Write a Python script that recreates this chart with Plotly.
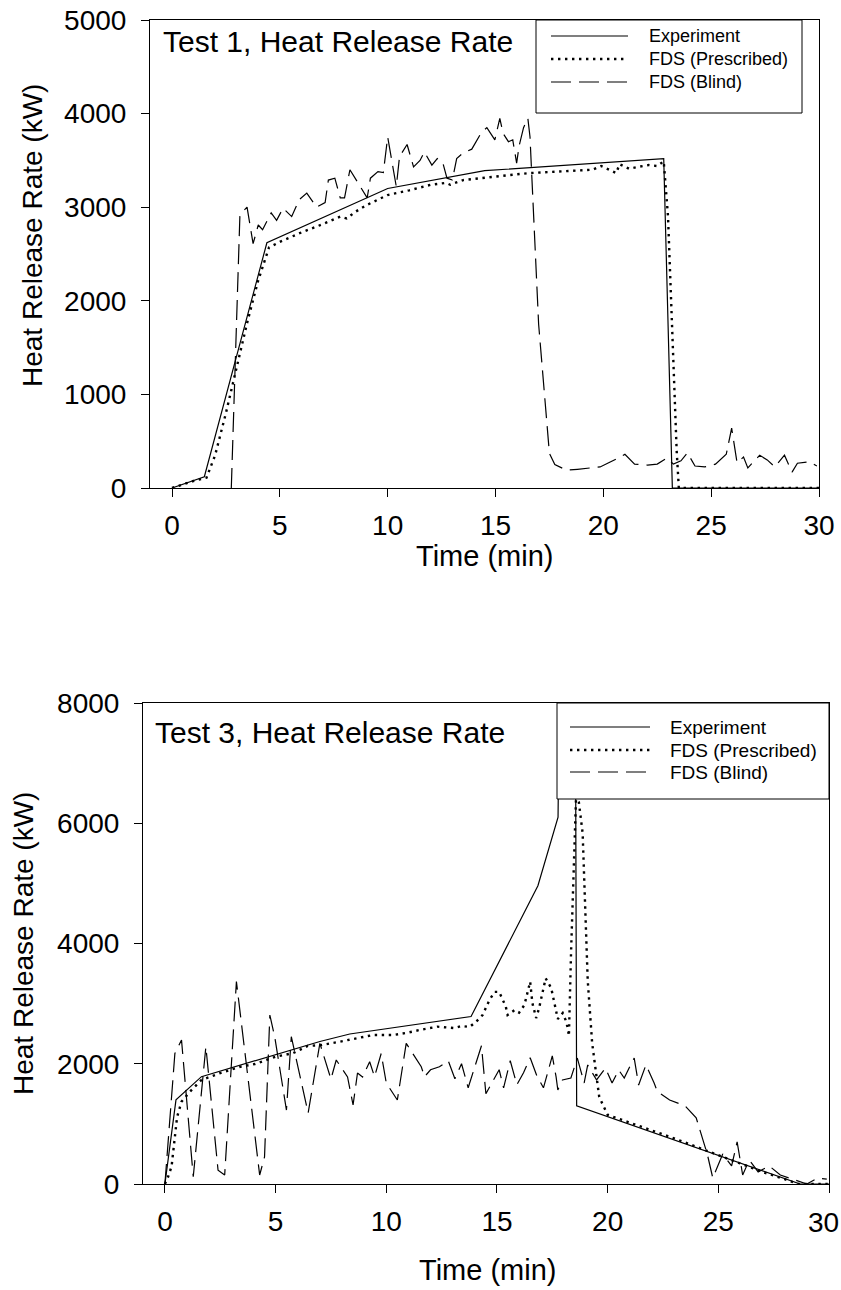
import plotly.graph_objects as go

W, H = 841, 1290
FONT = "Liberation Sans, Arial, sans-serif"

# ---------------- Test 1 data ----------------
exp1_t = [0, 1.5, 4.4, 10.0, 14.5, 22.8, 23.2, 30]
exp1_v = [0, 120, 2620, 3200, 3390, 3520, 0, 0]

pre1_t = [0, 0.5, 1.0, 1.6, 2.0, 2.5, 3.0, 3.5, 4.0, 4.5, 5.0, 6.0, 7.0, 7.8, 8.1, 8.5, 9.0,
          10.0, 11.0, 11.5, 12.0, 12.7, 12.9, 13.5, 14.6, 15.5, 16.6, 17.5, 18.1, 19.0, 19.5,
          19.9, 20.3, 20.6, 20.75, 21.2, 21.6, 22.1, 22.5, 22.8, 23.0, 23.2, 23.4, 23.5, 30]
pre1_v = [0, 40, 75, 110, 350, 800, 1300, 1780, 2220, 2570, 2630, 2730, 2820, 2900, 2880, 2950, 3020,
          3130, 3180, 3210, 3240, 3260, 3240, 3290, 3320, 3340, 3365, 3375, 3380, 3390, 3400,
          3440, 3400, 3365, 3460, 3410, 3430, 3450, 3440, 3490, 2900, 1600, 400, 0, 0]

bl1_t = [2.75, 3.15, 3.48, 3.76, 4.0, 4.2, 4.6, 4.85, 5.15, 5.55, 5.9, 6.25, 6.7, 7.1, 7.25, 7.55,
         7.8, 8.0, 8.25, 8.8, 9.05, 9.2, 9.55, 9.8, 10.0, 10.4, 10.55, 10.9, 11.2, 11.5, 11.7,
         12.05, 12.3, 12.55, 12.75, 13.0, 13.2, 13.5, 13.9, 14.35, 14.6, 14.97, 15.2, 15.35,
         15.6, 15.8, 15.98, 16.1, 16.3, 16.5, 16.6, 17.0, 17.5, 17.75, 18.3, 18.8, 19.4, 19.85,
         20.6, 21.0, 21.45, 22.05, 22.5, 22.95, 23.25, 23.6, 23.9, 24.25, 24.7, 25.2, 25.7,
         25.95, 26.2, 26.5, 26.7, 27.25, 27.6, 27.95, 28.4, 28.75, 29.0, 29.55, 29.9]
bl1_v = [0, 2920, 3000, 2610, 2810, 2760, 2940, 2860, 2990, 2900, 3080, 3150, 3000, 3050, 3290, 3310,
         3100, 3100, 3400, 3200, 3100, 3310, 3380, 3370, 3750, 3220, 3540, 3670, 3430, 3500, 3590,
         3450, 3520, 3480, 3310, 3290, 3520, 3580, 3620, 3800, 3850, 3720, 3950, 3790,
         3700, 3720, 3470, 3660, 3850, 3950, 3750, 1750, 370, 250, 190, 200, 210, 225,
         310, 360, 255, 245, 255, 320, 255, 290, 375, 235, 225, 255, 360,
         640, 270, 330, 215, 350, 300, 225, 350, 170, 265, 280, 235]

# ---------------- Test 3 data ----------------
exp3_t = [0, 0.5, 1.65, 7.0, 8.35, 12.4, 13.83, 16.85, 17.76, 17.8, 18.55, 18.6, 28.7, 30]
exp3_v = [0, 1400, 1785, 2370, 2495, 2700, 2785, 4960, 6100, 7500, 7500, 1300, 0, 0]

pre3_t = [0, 0.14, 0.3, 0.45, 0.55, 0.75, 1.13, 1.65, 2.5, 3.4, 4.06, 5.0, 5.8, 6.45, 7.07, 7.9,
          8.65, 9.4, 10.3, 10.97, 11.5, 12.3, 13.08, 13.4, 13.76, 14.06, 14.35, 14.66, 14.9,
          15.1, 15.4, 15.48, 15.8, 16.0, 16.24, 16.4, 16.5, 16.6, 16.77, 16.9, 17.2, 17.45,
          17.6, 17.75, 17.97, 18.1, 18.2, 18.25, 18.35, 18.45, 18.57, 18.7, 18.87, 19.1, 19.17,
          19.25, 19.3, 19.4, 19.55, 19.62, 20.0, 21, 22, 23, 24, 25, 26, 27, 28, 28.6, 30]
pre3_v = [0, 116, 290, 730, 1115, 1370, 1535, 1730, 1845, 1950, 1995, 2117, 2178, 2295, 2311, 2367,
          2423, 2478, 2478, 2517, 2561, 2617, 2594, 2628, 2611, 2700, 2810, 3060, 3195,
          3195, 2950, 2810, 2894, 2850, 2977, 3226, 3364, 3010, 2760, 2920, 3420, 3260,
          2977, 2744, 2844, 2727, 2594, 2461, 3890, 5200, 6400, 6350, 5840, 3390, 3000,
          2727, 2345, 2062, 1597, 1447, 1150, 1020, 900, 760, 620, 480, 340, 200, 80, 0, 0]

bl3_t = [0, 0.45, 0.75, 1.28, 1.85, 2.4, 2.7, 3.23, 4.28, 4.5, 4.74, 4.96, 5.49, 5.71, 6.47, 7.0,
         7.5, 7.74, 8.25, 8.5, 8.7, 8.93, 9.25, 9.47, 9.77, 10.0, 10.5, 10.9, 11.58, 11.73, 12.0,
         12.4, 12.8, 13.1, 13.4, 13.7, 14.0, 14.3, 14.5, 14.8, 15.1, 15.3, 15.6, 15.9, 16.2,
         16.5, 16.8, 17.1, 17.5, 17.67, 17.75, 17.96, 18.34, 18.63, 18.94, 19.1, 19.3, 19.5,
         19.9, 20.2, 20.5, 20.75, 21.0, 21.2, 21.4, 21.73, 22.1, 22.25, 22.8, 23.5, 24.0, 24.5,
         24.75, 25.2, 25.6, 25.85, 26.1, 26.4, 26.8, 27.3, 27.8, 28.2, 28.6, 29.0, 29.5, 29.9]
bl3_v = [0, 2170, 2395, 120, 2283, 230, 150, 3367, 150, 450, 2810, 2450, 1230, 2450, 1180, 2340,
         1745, 2062, 1780, 1314, 1846, 1780, 2034, 1785, 2170, 1680, 1397, 2340, 1950, 1785, 1900,
         1950, 2050, 1750, 2000, 1600, 1950, 2300, 1500, 1700, 1900, 1600, 2050, 1650, 1850,
         2100, 1800, 1600, 2130, 1785, 1563, 1730, 1763, 2095, 1680, 1980, 1846, 1730,
         1929, 1680, 1896, 1763, 1950, 2095, 1646, 1980, 1680, 1535, 1397, 1300, 1100, 500,
         100, 500, 300, 700, 150, 400, 200, 300, 150, 100, 50, 0, 100, 80]

x_ticks = [0, 5, 10, 15, 20, 25, 30]
y1_ticks = [0, 1000, 2000, 3000, 4000, 5000]
y3_ticks = [0, 2000, 4000, 6000, 8000]
series_names = ["Experiment", "FDS (Prescribed)", "FDS (Blind)"]
titles = ["Test 1, Heat Release Rate", "Test 3, Heat Release Rate"]

SOLID = dict(color="black", width=1.2)
DOT = dict(color="black", width=2.4, dash="2.4px,4.6px")
DASH = dict(color="black", width=1.2, dash="20px,8px")
styles = [SOLID, DOT, DASH]

TICK_SIZE = 28


def px(x):
    return x / W


def py(y):
    return 1 - y / H


fig = go.Figure()
for (t, v), st in zip([(exp1_t, exp1_v), (pre1_t, pre1_v), (bl1_t, bl1_v)], styles):
    fig.add_trace(go.Scatter(x=t, y=v, mode="lines", line=st, xaxis="x", yaxis="y",
                             showlegend=False))
for (t, v), st in zip([(exp3_t, exp3_v), (pre3_t, pre3_v), (bl3_t, bl3_v)], styles):
    fig.add_trace(go.Scatter(x=t, y=v, mode="lines", line=st, xaxis="x2", yaxis="y2",
                             showlegend=False))

ax_common = dict(showline=True, linecolor="black", linewidth=1, mirror=True,
                 ticks="outside", ticklen=8, tickwidth=1, tickcolor="black",
                 showgrid=False, zeroline=False, automargin=False,
                 tickfont=dict(family=FONT, size=TICK_SIZE, color="black"))

fig.update_layout(
    template="none",
    width=W, height=H, margin=dict(l=0, r=0, t=0, b=0, pad=0, autoexpand=False),
    paper_bgcolor="white", plot_bgcolor="white", showlegend=False,
    xaxis=dict(domain=[px(150), px(819)], range=[-1.02, 30], tickvals=x_ticks,
               anchor="y", ticklabelstandoff=4, **ax_common),
    yaxis=dict(domain=[py(488), py(20)], range=[0, 5000], tickvals=y1_ticks,
               anchor="x", ticklabelstandoff=9, **ax_common),
    xaxis2=dict(domain=[px(143), px(829)], range=[-0.99, 30], tickvals=x_ticks,
                anchor="y2", ticklabelstandoff=4, **ax_common),
    yaxis2=dict(domain=[py(1184), py(703)], range=[0, 8000], tickvals=y3_ticks,
                anchor="x2", ticklabelstandoff=9, **ax_common),
)

annotations = []
shapes = []

# the last tick label of the lower panel sits at the page edge; keep it fully on the page
annotations.append(dict(text=str(x_ticks[-1]), x=1, y=py(1222), xref="paper", yref="paper",
                        showarrow=False, xanchor="right", yanchor="middle",
                        font=dict(family=FONT, size=TICK_SIZE, color="black")))

# axis titles and panel titles
for cx, cy in [(485, 556), (487, 1270)]:
    annotations.append(dict(text="Time (min)", x=px(cx), y=py(cy), xref="paper", yref="paper",
                            showarrow=False, xanchor="center", yanchor="middle",
                            font=dict(family=FONT, size=29, color="black")))
for cx, cy in [(33, 236), (23, 944)]:
    annotations.append(dict(text="Heat Release Rate (kW)", x=px(cx), y=py(cy), xref="paper",
                            yref="paper", showarrow=False, textangle=-90,
                            xanchor="center", yanchor="middle",
                            font=dict(family=FONT, size=28, color="black")))
for (lx, cy), ttl in zip([(161, 41), (153, 732)], titles):
    annotations.append(dict(text=ttl, x=px(lx), y=py(cy), xref="paper", yref="paper",
                            showarrow=False, xanchor="left", yanchor="middle",
                            font=dict(family=FONT, size=30, color="black")))

# hand-built legends (long line samples like the original)
legends = [
    dict(box=(536, 20, 802, 113), line_x=(551, 628), text_x=647, rows=[36, 59, 82], size=18),
    dict(box=(557, 703, 829, 799), line_x=(570, 650), text_x=668, rows=[727, 750, 772], size=19),
]
for lg in legends:
    x0, y0, x1, y1 = lg["box"]
    shapes.append(dict(type="rect", xref="paper", yref="paper", x0=px(x0), x1=px(x1),
                       y0=py(y1), y1=py(y0), fillcolor="white",
                       line=dict(color="black", width=1), layer="above"))
    for name, st, ry in zip(series_names, styles, lg["rows"]):
        shapes.append(dict(type="line", xref="paper", yref="paper",
                           x0=px(lg["line_x"][0]), x1=px(lg["line_x"][1]),
                           y0=py(ry), y1=py(ry), line=st, layer="above"))
        annotations.append(dict(text=name, x=px(lg["text_x"]), y=py(ry), xref="paper",
                                yref="paper", showarrow=False, xanchor="left",
                                yanchor="middle",
                                font=dict(family=FONT, size=lg["size"], color="black")))

fig.update_layout(annotations=annotations, shapes=shapes)
fig.write_html("out.html")
